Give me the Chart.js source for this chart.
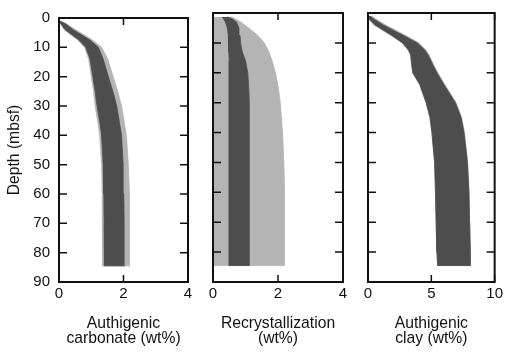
<!DOCTYPE html>
<html>
<head>
<meta charset="utf-8">
<script src="https://cdn.jsdelivr.net/npm/chart.js@4/dist/chart.umd.min.js"></script>
<style>
  html, body { margin: 0; padding: 0; background: #fff; }
  #wrap { position: relative; width: 506px; height: 352px; }
  #wrap canvas { position: absolute; left: 0; top: 0; }
</style>
</head>
<body>
<div id="wrap">
  <canvas id="c1" width="506" height="352"></canvas>
  <canvas id="c2" width="506" height="352"></canvas>
  <canvas id="c3" width="506" height="352"></canvas>
</div>
<script>
// Depth profiles (mbsf) with inner (dark) and outer (light) ranges, wt%

// Authigenic carbonate
const carbDepth     = [1, 2, 4, 7.5, 10, 14, 20, 25, 30, 36, 40, 50, 60, 70, 84.5];
const carbInnerLow  = [0, 0.06, 0.19, 0.62, 0.83, 0.96, 1.05, 1.12, 1.18, 1.27, 1.32, 1.37, 1.39, 1.40, 1.41];
const carbInnerHigh = [0.02, 0.20, 0.44, 0.96, 1.22, 1.37, 1.53, 1.67, 1.79, 1.88, 1.94, 1.99, 2.01, 2.02, 2.03];
const carbOuterLow  = [0, 0.04, 0.16, 0.58, 0.79, 0.92, 1.00, 1.07, 1.12, 1.21, 1.26, 1.32, 1.34, 1.35, 1.35];
const carbOuterHigh = [0.04, 0.24, 0.52, 1.04, 1.32, 1.51, 1.68, 1.82, 1.94, 2.03, 2.09, 2.15, 2.18, 2.19, 2.20];

// Recrystallization
const recDepth     = [1.3, 2, 3, 5, 7.5, 10, 13, 16, 20, 25, 30, 40, 50, 60, 84.5];
const recInnerLow  = [0.28, 0.33, 0.38, 0.44, 0.47, 0.48, 0.49, 0.50, 0.50, 0.50, 0.50, 0.50, 0.50, 0.50, 0.50];
const recInnerHigh = [0.45, 0.60, 0.72, 0.80, 0.83, 0.85, 0.90, 1.00, 1.07, 1.10, 1.11, 1.12, 1.12, 1.12, 1.12];
const recOuterLow  = [0.02, 0, 0, 0, 0, 0, 0, 0, 0, 0, 0, 0, 0, 0, 0];
const recOuterHigh = [0.55, 0.70, 0.85, 1.10, 1.38, 1.58, 1.72, 1.82, 1.92, 2.01, 2.07, 2.14, 2.18, 2.20, 2.20];

// Authigenic clay
const clayDepth     = [1, 2, 4, 7.4, 10, 12.4, 14, 17.4, 20, 24, 30, 35, 40, 50, 60, 70, 80, 84.5];
const clayInnerLow  = [0, 0.10, 0.56, 1.84, 2.74, 3.20, 3.38, 3.46, 3.54, 4.10, 4.60, 4.90, 5.05, 5.26, 5.33, 5.38, 5.44, 5.50];
const clayInnerHigh = [0.15, 0.45, 1.20, 2.74, 3.89, 4.48, 4.74, 5.13, 5.44, 6.00, 6.90, 7.35, 7.58, 7.85, 7.97, 8.02, 8.08, 8.10];
const clayOuterLow  = [0, 0.05, 0.45, 1.75, 2.68, 3.15, 3.34, 3.43, 3.51, 4.07, 4.57, 4.88, 5.03, 5.25, 5.32, 5.37, 5.43, 5.49];
const clayOuterHigh = [0.30, 0.65, 1.40, 2.92, 4.02, 4.58, 4.82, 5.20, 5.52, 6.08, 6.96, 7.40, 7.62, 7.87, 7.99, 8.04, 8.10, 8.12];

// Axis ticks
const depthTicks = [0, 10, 20, 30, 40, 50, 60, 70, 80, 90];
const carbTicks = [0, 2, 4];
const recTicks  = [0, 2, 4];
const clayTicks = [0, 5, 10];

const DARK = '#4d4d4d';
const LIGHT = '#b4b4b4';
const INK = '#111';
const FONT = 'Liberation Sans, Arial, Helvetica, sans-serif';

// Closed outline: down the low edge, back up the high edge
function band(depth, low, high) {
  const down = depth.map((d, i) => ({ x: low[i], y: d }));
  const up = depth.map((d, i) => ({ x: high[i], y: d })).reverse();
  return down.concat(up);
}

function bandDataset(points, color, order) {
  return {
    data: points,
    order: order,
    showLine: true,
    fill: 'shape',
    backgroundColor: color,
    borderColor: color,
    borderWidth: 0.8,
    pointRadius: 0,
    tension: 0
  };
}

// Frame plus inward-pointing tick marks on all four sides
const frameTicks = {
  id: 'frameTicks',
  afterDatasetsDraw(chart) {
    const { ctx, chartArea: a, scales: { x, y } } = chart;
    ctx.save();
    ctx.strokeStyle = INK;
    ctx.lineWidth = 1.5;
    ctx.beginPath();
    y.ticks.forEach(t => {
      const py = y.getPixelForValue(t.value);
      ctx.moveTo(a.left, py); ctx.lineTo(a.left + 8, py);
      ctx.moveTo(a.right, py); ctx.lineTo(a.right - 8, py);
    });
    x.ticks.forEach(t => {
      const px = x.getPixelForValue(t.value);
      ctx.moveTo(px, a.top); ctx.lineTo(px, a.top + 7);
      ctx.moveTo(px, a.bottom); ctx.lineTo(px, a.bottom - 7);
    });
    ctx.stroke();
    ctx.lineWidth = 2;
    ctx.strokeRect(a.left, a.top, a.right - a.left, a.bottom - a.top);
    ctx.restore();
  }
};

function panel(id, cfg) {
  const yAxis = {
    reverse: true,
    min: 0,
    max: 90,
    afterBuildTicks: s => { s.ticks = depthTicks.map(v => ({ value: v })); },
    grid: { display: false, drawTicks: false },
    border: { display: false },
    ticks: {
      display: cfg.showDepth,
      padding: 9,
      color: INK,
      font: { family: FONT, size: 15 }
    },
    title: {
      display: cfg.showDepth,
      text: 'Depth (mbsf)',
      color: INK,
      font: { family: FONT, size: 15.7 },
      padding: { top: 5, bottom: 0 }
    },
    afterFit: s => { s.width = cfg.showDepth ? 59 : 0; }
  };
  const xAxis = {
    type: 'linear',
    min: cfg.xTicks[0],
    max: cfg.xTicks[cfg.xTicks.length - 1],
    afterBuildTicks: s => { s.ticks = cfg.xTicks.map(v => ({ value: v })); },
    grid: { display: false, drawTicks: false },
    border: { display: false },
    ticks: {
      padding: 3,
      maxRotation: 0,
      color: INK,
      font: { family: FONT, size: 15 }
    },
    title: {
      display: true,
      text: cfg.title,
      color: INK,
      font: { family: FONT, size: 15.7, lineHeight: 1.0 },
      padding: { top: 0, bottom: 5 }
    },
    afterFit: s => { s.height = 70; }
  };
  // Lower order values are drawn on top: dark range over light range
  return new Chart(document.getElementById(id), {
    type: 'scatter',
    data: {
      datasets: [
        bandDataset(band(cfg.depth, cfg.innerLow, cfg.innerHigh), DARK, 0),
        bandDataset(band(cfg.depth, cfg.outerLow, cfg.outerHigh), LIGHT, 1)
      ]
    },
    options: {
      responsive: false,
      animation: false,
      devicePixelRatio: 1,
      layout: { padding: { left: cfg.padLeft, right: cfg.padRight, top: 13, bottom: 0 } },
      plugins: { legend: { display: false }, tooltip: { enabled: false } },
      scales: { x: xAxis, y: yAxis }
    },
    plugins: [frameTicks]
  });
}

panel('c1', {
  depth: carbDepth, innerLow: carbInnerLow, innerHigh: carbInnerHigh,
  outerLow: carbOuterLow, outerHigh: carbOuterHigh,
  xTicks: carbTicks, title: ['Authigenic', 'carbonate (wt%)'],
  showDepth: true, padLeft: 0, padRight: 318
});
panel('c2', {
  depth: recDepth, innerLow: recInnerLow, innerHigh: recInnerHigh,
  outerLow: recOuterLow, outerHigh: recOuterHigh,
  xTicks: recTicks, title: ['Recrystallization', '(wt%)'],
  showDepth: false, padLeft: 213, padRight: 163
});
panel('c3', {
  depth: clayDepth, innerLow: clayInnerLow, innerHigh: clayInnerHigh,
  outerLow: clayOuterLow, outerHigh: clayOuterHigh,
  xTicks: clayTicks, title: ['Authigenic', 'clay (wt%)'],
  showDepth: false, padLeft: 368, padRight: 8
});
</script>
</body>
</html>
